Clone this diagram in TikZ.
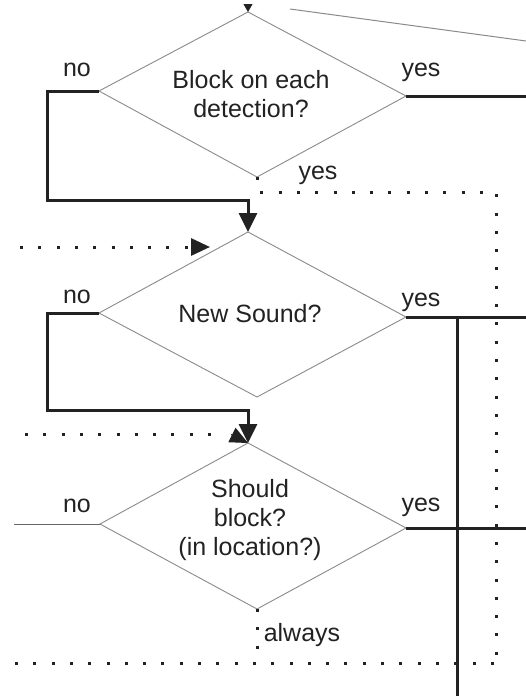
\documentclass[tikz,border=0pt]{standalone}
\usepackage{fontspec}
\setmainfont{Liberation Sans}
\usetikzlibrary{arrows.meta}
\definecolor{ink}{HTML}{222222}
\definecolor{edge}{HTML}{8A8A8A}
\definecolor{thin}{HTML}{666666}
\tikzset{
  dia/.style={draw=edge, line width=0.9pt, line join=miter},
  txt/.style={inner sep=0pt, font=\fontsize{25}{29}\selectfont, text=ink, align=center},
  lbl/.style={inner sep=0pt, font=\fontsize{25}{29}\selectfont, text=ink, anchor=base},
  heavy/.style={draw=ink, line width=3pt},
  thinline/.style={draw=thin, line width=1pt},
  dotline/.style={draw=ink, line width=3pt, dash pattern=on 3pt off 15.3pt},
  bigtip/.style={-{Triangle[length=19pt,width=18pt]}},
  smalltip/.style={-{Triangle[length=8pt,width=9pt]}}
}
\begin{document}
\begin{tikzpicture}[x=1pt,y=-1pt]
\useasboundingbox (0,0) rectangle (526,696);
% diamond corners
\coordinate (d1t) at (248,12);  \coordinate (d1r) at (406,96);
\coordinate (d1b) at (257,177); \coordinate (d1l) at (99,91);
\coordinate (d2t) at (248,232); \coordinate (d2r) at (406,317);
\coordinate (d2b) at (257,397); \coordinate (d2l) at (99,313);
\coordinate (d3t) at (248,443); \coordinate (d3r) at (406,528);
\coordinate (d3b) at (257,609); \coordinate (d3l) at (100,524);
% diamonds
\draw[dia] (d1t) -- (d1r) -- (d1b) -- (d1l) -- cycle;
\draw[dia] (d2t) -- (d2r) -- (d2b) -- (d2l) -- cycle;
\draw[dia] (d3t) -- (d3r) -- (d3b) -- (d3l) -- cycle;
\node[txt] (q1) at (251,94.5) {Block on each\\detection?};
\node[txt] (q2) at (250,314) {New Sound?};
\node[txt] (q3) at (250,520.5) {Should\\block?\\(in location?)};
% labels
\node[lbl] (l1no) at (77,76) {no};
\node[lbl] (l1yes) at (421,76) {yes};
\node[lbl] (l1yesb) at (318,179) {yes};
\node[lbl] (l2no) at (77,303) {no};
\node[lbl] (l2yes) at (421,306) {yes};
\node[lbl] (l3no) at (77,512) {no};
\node[lbl] (l3yes) at (421,511) {yes};
\node[lbl] (lalw) at (302,641) {always};
% free ends and corners
\coordinate (topin) at (248,5);
\coordinate (tra) at (290,9);    \coordinate (trb) at (526,41);
\coordinate (n1a) at (47,91);    \coordinate (n1b) at (47,200);  \coordinate (n1c) at (248,200);
\coordinate (y1e) at (526,96);
\coordinate (yb1) at (257,192);  \coordinate (yb2) at (496,192);
\coordinate (yb3) at (496,663);  \coordinate (yb4) at (15,663);
\coordinate (in2) at (20,247);   \coordinate (in2e) at (210,247);
\coordinate (n2a) at (47,313);   \coordinate (n2b) at (47,410);  \coordinate (n2c) at (248,410);
\coordinate (y2e) at (526,317);
\coordinate (va) at (457,317);   \coordinate (vb) at (457,696);
\coordinate (in3) at (25,434);   \coordinate (in3e) at (226,434); \coordinate (in3t) at (231,434.5);
\coordinate (n3e) at (14,524);
\coordinate (y3e) at (526,528);
\coordinate (alw) at (257,663);
% connectors
\draw[line width=0.8pt, draw=ink, fill=ink, smalltip] (topin) -- (d1t);
\draw[thinline, draw=edge] (tra) -- (trb);
\draw[heavy, bigtip] (d1l) -- (n1a) -- (n1b) -- (n1c) -- (d2t);
\draw[heavy] (d1r) -- (y1e);
\draw[dotline] (d1b) -- (yb1) -- (yb2) -- (yb3);
\draw[dotline] (yb4) -- (yb3);
\draw[dotline, -{Triangle[length=19pt,width=17pt]}] (in2) -- (in2e);
\draw[heavy, bigtip] (d2l) -- (n2a) -- (n2b) -- (n2c) -- (d3t);
\draw[heavy] (d2r) -- (y2e);
\draw[heavy] (va) -- (vb);
\draw[dotline] (in3) -- (in3e);
\draw[draw=ink, line width=1pt, -{Triangle[length=18pt,width=16pt]}] (in3t) -- (d3t);
\draw[thinline] (n3e) -- (d3l);
\draw[heavy] (d3r) -- (y3e);
\draw[dotline] (d3b) -- (alw);
\end{tikzpicture}
\end{document}
